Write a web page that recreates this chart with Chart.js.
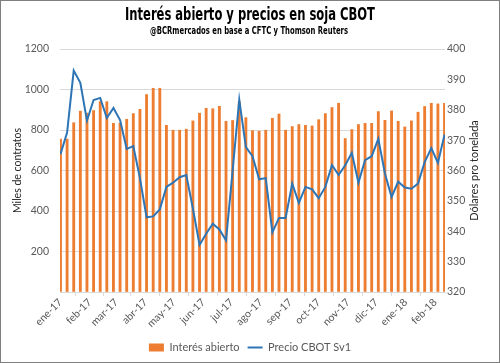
<!DOCTYPE html>
<html>
<head>
<meta charset="utf-8">
<script src="https://cdn.jsdelivr.net/npm/chart.js@4.4.1/dist/chart.umd.min.js"></script>
<style>
  html, body { margin: 0; padding: 0; background: #fff; }
  #wrap { width: 500px; height: 363px; }
</style>
</head>
<body>
<div id="wrap"><canvas id="grafico" width="500" height="363"></canvas></div>
<script>
// Fechas semanales (CFTC, martes)
const fechas = [
  '2017-01-03', '2017-01-10', '2017-01-17', '2017-01-24', '2017-01-31',
  '2017-02-07', '2017-02-14', '2017-02-21', '2017-02-28', '2017-03-07',
  '2017-03-14', '2017-03-21', '2017-03-28', '2017-04-04', '2017-04-11',
  '2017-04-18', '2017-04-25', '2017-05-02', '2017-05-09', '2017-05-16',
  '2017-05-23', '2017-05-30', '2017-06-06', '2017-06-13', '2017-06-20',
  '2017-06-27', '2017-07-04', '2017-07-11', '2017-07-18', '2017-07-25',
  '2017-08-01', '2017-08-08', '2017-08-15', '2017-08-22', '2017-08-29',
  '2017-09-05', '2017-09-12', '2017-09-19', '2017-09-26', '2017-10-03',
  '2017-10-10', '2017-10-17', '2017-10-24', '2017-10-31', '2017-11-07',
  '2017-11-14', '2017-11-21', '2017-11-28', '2017-12-05', '2017-12-12',
  '2017-12-19', '2017-12-26', '2018-01-02', '2018-01-09', '2018-01-16',
  '2018-01-23', '2018-01-30', '2018-02-06', '2018-02-13'
];

// Interés abierto (miles de contratos)
const interesAbierto = [
  755, 755, 836, 893, 883, 896, 940, 940, 833, 834,
  853, 881, 902, 975, 1006, 1006, 823, 799, 799, 804,
  845, 883, 907, 905, 917, 843, 847, 940, 861, 797,
  794, 799, 858, 879, 799, 817, 827, 823, 820, 851,
  881, 911, 932, 758, 802, 827, 833, 833, 891, 848,
  894, 843, 815, 845, 888, 916, 932, 929, 932
];

// Precio CBOT primera posición (USD/t)
const precioCbot = [
  365.4, 372.5, 392.9, 388.9, 376.4, 383.2, 383.9, 377.3, 380.6, 376.6,
  367.1, 368.0, 357.5, 344.6, 344.9, 347.2, 354.6, 356.0, 357.8, 358.5,
  347.5, 335.5, 339.2, 342.5, 340.6, 337.0, 360.0, 383.3, 367.7, 364.7,
  357.1, 357.5, 339.6, 344.4, 344.4, 355.7, 349.3, 354.6, 353.8, 350.9,
  354.6, 361.8, 358.5, 361.7, 365.8, 356.0, 363.4, 364.7, 370.4, 359.0,
  351.3, 356.3, 354.4, 354.0, 355.7, 362.8, 367.4, 362.5, 371.8
];

// Etiquetas del eje de fechas
const mesesEtiquetas = ['ene-17', 'feb-17', 'mar-17', 'abr-17', 'may-17', 'jun-17', 'jul-17',
  'ago-17', 'sep-17', 'oct-17', 'nov-17', 'dic-17', 'ene-18', 'feb-18'];
const mesesFechas = ['2017-01-03', '2017-02-03', '2017-03-03', '2017-04-03', '2017-05-03', '2017-06-03',
  '2017-07-03', '2017-08-03', '2017-09-03', '2017-10-03', '2017-11-03', '2017-12-03',
  '2018-01-03', '2018-02-03'];

const titulo = 'Interés abierto y precios en soja CBOT';
const subtitulo = '@BCRmercados en base a CFTC y Thomson Reuters';

const DIA = 86400000;
const aDia = s => Date.parse(s + 'T00:00:00Z') / DIA;

const fuente = 'Lato, "Open Sans", sans-serif';
const fuenteAngosta = '"DejaVu Sans Condensed", "DejaVu Sans", sans-serif';

// texto comprimido horizontalmente hasta un ancho dado (la fuente original es muy angosta)
function textoAngosto(ctx, txt, cx, cy, font, ancho) {
  ctx.save();
  ctx.font = font;
  const w = ctx.measureText(txt).width;
  ctx.translate(cx, cy);
  ctx.scale(ancho / w, 1);
  ctx.textAlign = 'center';
  ctx.textBaseline = 'middle';
  ctx.fillStyle = '#000';
  ctx.fillText(txt, 0, 0);
  ctx.restore();
}

// Títulos, marco gris y título del eje derecho (Excel lo escribe de abajo hacia arriba)
const extras = {
  id: 'extras',
  afterDraw(chart) {
    const ctx = chart.ctx;
    textoAngosto(ctx, titulo, 250, 15.5, 'bold 18px ' + fuenteAngosta, 250);
    textoAngosto(ctx, subtitulo, 249, 31, 'bold 11px ' + fuenteAngosta, 198);
    ctx.save();
    ctx.strokeStyle = '#7f7f7f';
    ctx.lineWidth = 1;
    ctx.strokeRect(0.5, 0.5, 499, 362);
    const a = chart.chartArea;
    ctx.translate(474, (a.top + a.bottom) / 2);
    ctx.rotate(-Math.PI / 2);
    ctx.fillStyle = '#262626';
    ctx.font = '11px ' + fuente;
    ctx.textAlign = 'center';
    ctx.textBaseline = 'middle';
    ctx.fillText('Dólares pro tonelada', 0, 0);
    ctx.restore();
  }
};

new Chart(document.getElementById('grafico'), {
  type: 'bar',
  data: {
    datasets: [{
      type: 'bar',
      label: 'Interés abierto',
      data: fechas.map((f, i) => ({ x: aDia(f), y: interesAbierto[i] })),
      backgroundColor: '#ED7D31',
      borderWidth: 0,
      barThickness: 2.2,
      pointStyle: 'rect',
      yAxisID: 'y',
      order: 1
    }, {
      type: 'line',
      label: 'Precio CBOT Sv1',
      data: fechas.map((f, i) => ({ x: aDia(f), y: precioCbot[i] })),
      borderColor: '#2E75B6',
      backgroundColor: '#2E75B6',
      borderWidth: 2,
      pointRadius: 0,
      pointStyle: 'line',
      tension: 0,
      yAxisID: 'y1',
      order: 0
    }]
  },
  options: {
    responsive: false,
    animation: false,
    layout: { padding: { left: 0, right: 0, top: 49, bottom: 0 } },
    plugins: {
      title: { display: false },
      subtitle: { display: false },
      legend: {
        position: 'bottom',
        labels: {
          usePointStyle: true,
          pointStyleWidth: 15,
          boxHeight: 8,
          color: '#595959',
          font: { family: fuente, size: 11 },
          padding: 8,
          sort: (a, b) => a.datasetIndex - b.datasetIndex
        }
      },
      tooltip: { enabled: false }
    },
    scales: {
      x: {
        type: 'linear',
        offset: false,
        min: aDia(fechas[0]) - 0.5,
        max: aDia(fechas[fechas.length - 1]) + 0.5,
        afterBuildTicks: scale => {
          scale.ticks = mesesFechas.map(f => ({ value: aDia(f) }));
        },
        ticks: {
          autoSkip: false,
          maxRotation: 45,
          minRotation: 45,
          color: '#595959',
          font: { family: fuente, size: 10.5 },
          padding: 0,
          callback: (v, i) => mesesEtiquetas[i]
        },
        grid: { drawOnChartArea: false, color: '#d9d9d9', tickLength: 4 },
        border: { color: '#d9d9d9' },
        afterFit: scale => { scale.height = 42; }
      },
      y: {
        position: 'left',
        min: 0,
        max: 1200,
        ticks: {
          stepSize: 200,
          color: '#595959',
          font: { family: fuente, size: 10.5 },
          padding: 11,
          callback: v => (v === 0 ? '' : v)
        },
        grid: { color: '#d9d9d9', drawTicks: false },
        border: { display: false },
        title: {
          display: true,
          text: 'Miles de contratos',
          color: '#262626',
          font: { family: fuente, size: 10.5 },
          padding: { top: 11, bottom: 0 }
        },
        afterFit: scale => { scale.width = 60; }
      },
      y1: {
        position: 'right',
        min: 320,
        max: 400,
        ticks: {
          stepSize: 10,
          color: '#595959',
          font: { family: fuente, size: 10.5 },
          padding: 2
        },
        grid: { display: false, drawTicks: false },
        border: { display: false },
        afterFit: scale => { scale.width = 55; }
      }
    }
  },
  plugins: [extras]
});
</script>
</body>
</html>
